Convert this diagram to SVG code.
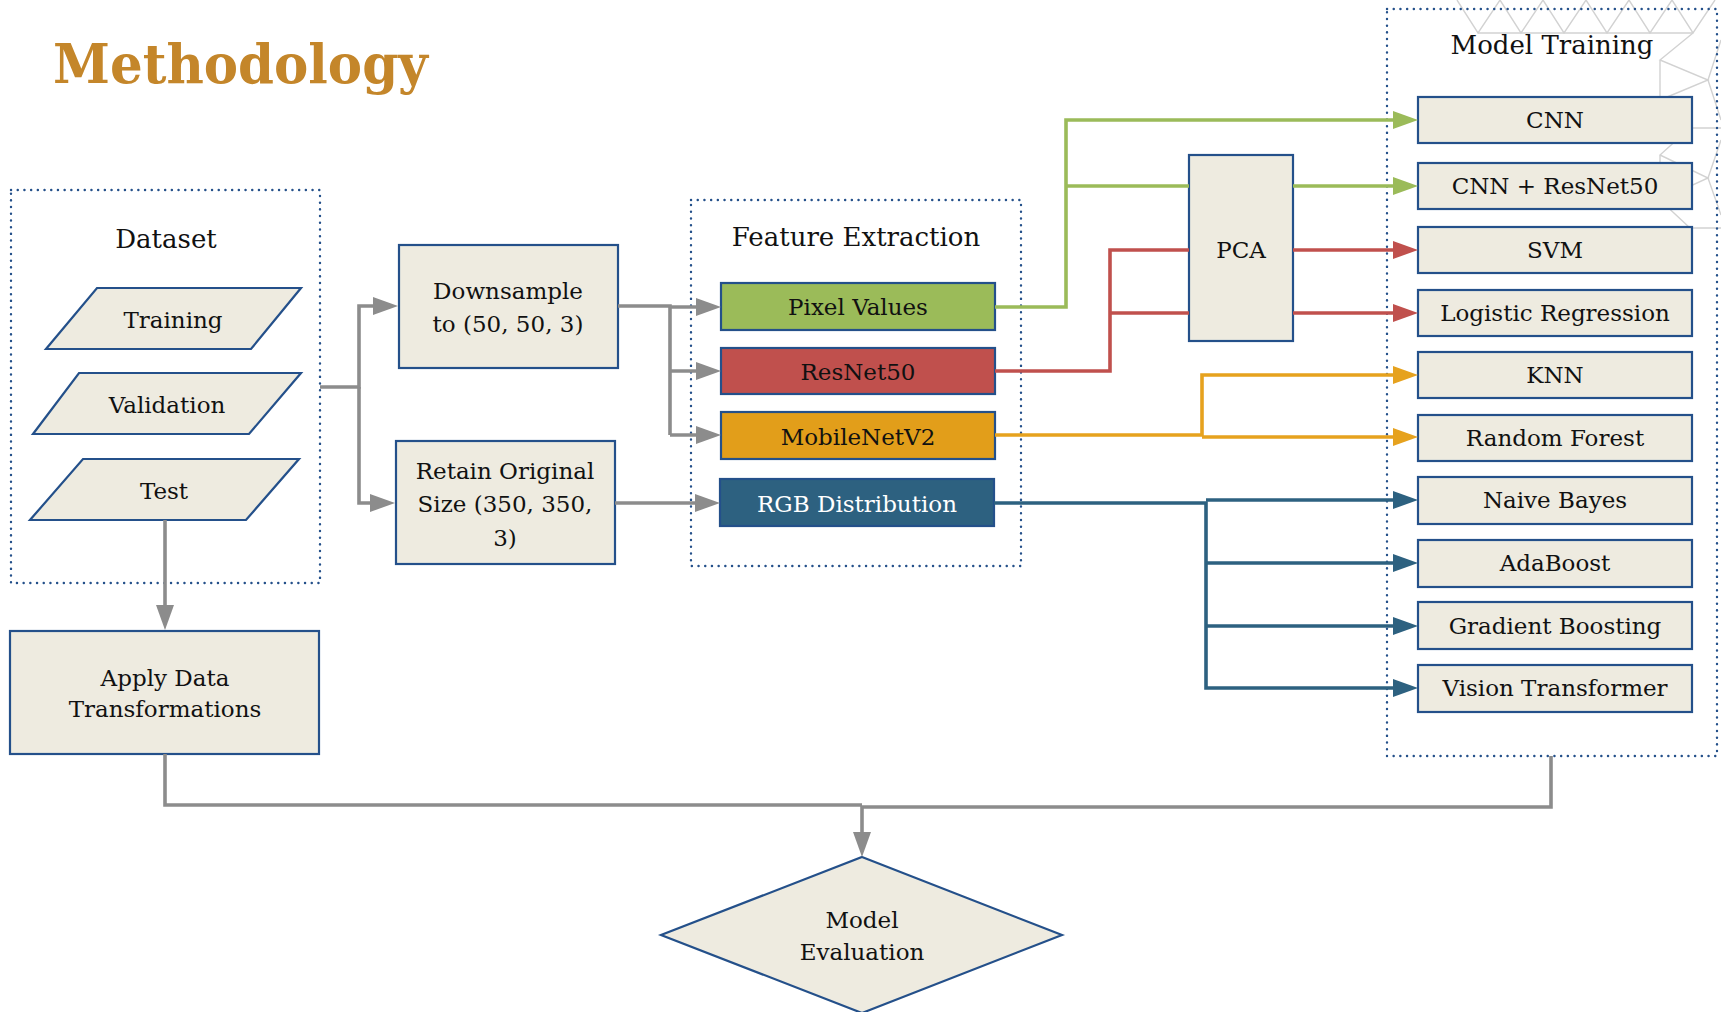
<svg xmlns="http://www.w3.org/2000/svg" width="1721" height="1012" viewBox="0 0 1721 1012">
<style>
text{font-family:"DejaVu Serif","Liberation Serif",serif;font-size:23px;fill:#111;text-anchor:middle}
.hdr{font-size:26px}
.box{fill:#EEEBE0;stroke:#24508A;stroke-width:2.2}
.grp{fill:none;stroke:#24508A;stroke-width:2.4;stroke-dasharray:0.1 6.6;stroke-linecap:round}
.c{fill:none;stroke-width:3.6}
.gy{stroke:#8C8C8C}.gn{stroke:#9BBB59}.rd{stroke:#C0504D}.or{stroke:#E6A21E}.bl{stroke:#2D6180}
.deco{fill:none;stroke:#D2D2D2;stroke-width:1.4}
</style>
<defs>
<marker id="aGy" markerUnits="userSpaceOnUse" markerWidth="25" markerHeight="18" refX="15" refY="9" orient="auto"><path d="M0,0 L25,9 L0,18 z" fill="#8C8C8C"/></marker>
<marker id="aGn" markerUnits="userSpaceOnUse" markerWidth="25" markerHeight="18" refX="15" refY="9" orient="auto"><path d="M0,0 L25,9 L0,18 z" fill="#9BBB59"/></marker>
<marker id="aRd" markerUnits="userSpaceOnUse" markerWidth="25" markerHeight="18" refX="15" refY="9" orient="auto"><path d="M0,0 L25,9 L0,18 z" fill="#C0504D"/></marker>
<marker id="aOr" markerUnits="userSpaceOnUse" markerWidth="25" markerHeight="18" refX="15" refY="9" orient="auto"><path d="M0,0 L25,9 L0,18 z" fill="#E6A21E"/></marker>
<marker id="aBl" markerUnits="userSpaceOnUse" markerWidth="25" markerHeight="18" refX="15" refY="9" orient="auto"><path d="M0,0 L25,9 L0,18 z" fill="#2D6180"/></marker>
</defs>
<rect width="1721" height="1012" fill="#fff"/>
<g id="decor" class="deco">
<path d="M1457,0 L1478,33 L1500,0 L1521,33 L1543,0 L1564,33 L1586,0 L1607,33 L1629,0 L1650,33 L1672,0 L1693,33 L1715,0"/>
<path d="M1478,33 H1693"/>
<path d="M1693,33 L1660,60 L1708,80 L1660,100 L1708,80 L1721,40 M1708,80 L1721,120 M1660,60 V100"/>
<path d="M1660,100 L1690,128 H1721 M1690,128 L1660,155 L1708,178 L1660,200 M1660,155 V200 L1690,228 H1721 M1708,178 L1721,140 M1708,178 L1721,215"/>
</g>
<text x="53" y="83" style="font-size:54px;font-weight:bold;fill:#C4862A;text-anchor:start" textLength="375" lengthAdjust="spacingAndGlyphs">Methodology</text>
<g id="dataset">
<rect class="grp" x="11" y="190" width="309" height="393"/>
<text class="hdr" x="166" y="248">Dataset</text>
</g>
<g id="training"><polygon class="box" points="97,288 301,288 251,349 46,349"/><text x="173" y="328">Training</text></g>
<g id="validation"><polygon class="box" points="79,373 301,373 249,434 33,434"/><text x="167" y="413">Validation</text></g>
<g id="test"><polygon class="box" points="83,459 299,459 246,520 30,520"/><text x="164" y="499">Test</text></g>
<g id="apply"><rect class="box" x="10" y="631" width="309" height="123"/><text x="165" y="686">Apply Data</text><text x="165" y="717">Transformations</text></g>
<g id="downsample"><rect class="box" x="399" y="245" width="219" height="123"/><text x="508" y="299">Downsample</text><text x="508" y="332">to (50, 50, 3)</text></g>
<g id="retain"><rect class="box" x="396" y="441" width="219" height="123"/><text x="505" y="479">Retain Original</text><text x="505" y="512">Size (350, 350,</text><text x="505" y="546">3)</text></g>
<g id="feature-extraction">
<rect class="grp" x="691" y="200" width="330" height="366"/>
<text class="hdr" x="856" y="246">Feature Extraction</text>
</g>
<g id="pixel"><rect class="box" x="721" y="283" width="274" height="47" style="fill:#9BBB59"/><text x="858" y="315">Pixel Values</text></g>
<g id="resnet"><rect class="box" x="721" y="348" width="274" height="46" style="fill:#C0504D"/><text x="858" y="380">ResNet50</text></g>
<g id="mobilenet"><rect class="box" x="721" y="412" width="274" height="47" style="fill:#E29E1A"/><text x="858" y="445">MobileNetV2</text></g>
<g id="rgb"><rect class="box" x="720" y="479" width="274" height="47" style="fill:#2D6180"/><text x="857" y="512" style="fill:#fff">RGB Distribution</text></g>
<g id="pca"><rect class="box" x="1189" y="155" width="104" height="186"/><text x="1241" y="258">PCA</text></g>
<g id="model-training">
<rect class="grp" x="1387" y="9" width="330" height="747"/>
<text class="hdr" x="1552" y="54">Model Training</text>
</g>
<g id="cnn"><rect class="box" x="1418" y="97" width="274" height="46"/><text x="1555" y="128">CNN</text></g>
<g id="cnn-resnet"><rect class="box" x="1418" y="163" width="274" height="46"/><text x="1555" y="194">CNN + ResNet50</text></g>
<g id="svm"><rect class="box" x="1418" y="227" width="274" height="46"/><text x="1555" y="258">SVM</text></g>
<g id="logreg"><rect class="box" x="1418" y="290" width="274" height="46"/><text x="1555" y="321">Logistic Regression</text></g>
<g id="knn"><rect class="box" x="1418" y="352" width="274" height="46"/><text x="1555" y="383">KNN</text></g>
<g id="rf"><rect class="box" x="1418" y="415" width="274" height="46"/><text x="1555" y="446">Random Forest</text></g>
<g id="nb"><rect class="box" x="1418" y="477" width="274" height="47"/><text x="1555" y="508">Naive Bayes</text></g>
<g id="ada"><rect class="box" x="1418" y="540" width="274" height="47"/><text x="1555" y="571">AdaBoost</text></g>
<g id="gb"><rect class="box" x="1418" y="602" width="274" height="47"/><text x="1555" y="634">Gradient Boosting</text></g>
<g id="vt"><rect class="box" x="1418" y="665" width="274" height="47"/><text x="1555" y="696">Vision Transformer</text></g>
<g id="evaluation"><polygon class="box" points="862,857 1062,935 862,1013 661,935"/><text x="862" y="928">Model</text><text x="862" y="960">Evaluation</text></g>
<g id="connectors">
<path class="c gy" d="M320,387 H359 V306 H388" marker-end="url(#aGy)"/>
<path class="c gy" d="M359,387 V503 H385" marker-end="url(#aGy)"/>
<path class="c gy" d="M618,306 H670 V435"/>
<path class="c gy" d="M670,307 H711" marker-end="url(#aGy)"/>
<path class="c gy" d="M670,371 H711" marker-end="url(#aGy)"/>
<path class="c gy" d="M670,435 H711" marker-end="url(#aGy)"/>
<path class="c gy" d="M615,503 H710" marker-end="url(#aGy)"/>
<path class="c gy" d="M165,520 V620" marker-end="url(#aGy)"/>
<path class="c gy" d="M165,754 V805 H862"/>
<path class="c gy" d="M1551,756 V807 H862"/>
<path class="c gy" d="M862,806 V847" marker-end="url(#aGy)"/>
<path class="c gn" d="M995,307 H1066 V120 H1408" marker-end="url(#aGn)"/>
<path class="c gn" d="M1066,186 H1189"/>
<path class="c gn" d="M1293,186 H1408" marker-end="url(#aGn)"/>
<path class="c rd" d="M995,371 H1110 V250 H1189"/>
<path class="c rd" d="M1110,313 H1189"/>
<path class="c rd" d="M1293,250 H1408" marker-end="url(#aRd)"/>
<path class="c rd" d="M1293,313 H1408" marker-end="url(#aRd)"/>
<path class="c or" d="M995,435 H1202 V375 H1408" marker-end="url(#aOr)"/>
<path class="c or" d="M1202,437 H1408" marker-end="url(#aOr)"/>
<path class="c bl" d="M994,503 H1206 V688 H1408" marker-end="url(#aBl)"/>
<path class="c bl" d="M1206,500 H1408" marker-end="url(#aBl)"/>
<path class="c bl" d="M1206,563 H1408" marker-end="url(#aBl)"/>
<path class="c bl" d="M1206,626 H1408" marker-end="url(#aBl)"/>
</g>
</svg>
